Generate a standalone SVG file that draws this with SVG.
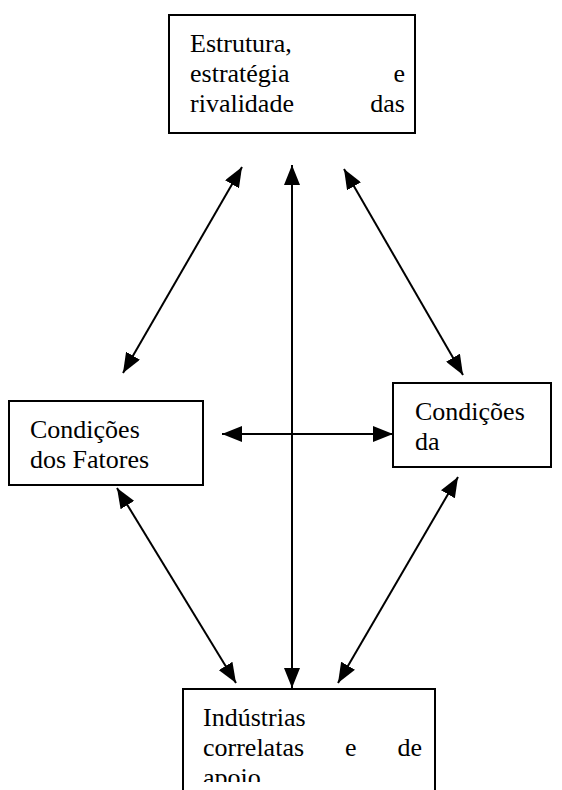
<svg xmlns="http://www.w3.org/2000/svg" width="562" height="790" viewBox="0 0 562 790">
<style>
.box{fill:#fff;stroke:#000;stroke-width:2}
.t{font-family:"Liberation Serif","Times New Roman",serif;font-size:26px;fill:#000}
.c{stroke:#000;stroke-width:2;fill:none;marker-start:url(#ah);marker-end:url(#ah)}
</style>
<defs>
<marker id="ah" markerUnits="userSpaceOnUse" markerWidth="20" markerHeight="16" refX="20" refY="8" orient="auto-start-reverse">
<path d="M0,0 L20,8 L0,16 z" fill="#000"/>
</marker>
<clipPath id="clipB"><rect x="183" y="689" width="252" height="93"/></clipPath>
</defs>
<rect width="562" height="790" fill="#fff"/>
<g id="connectors">
<line class="c" x1="242" y1="167" x2="123" y2="373"/>
<line class="c" x1="292" y1="165" x2="292" y2="688"/>
<line class="c" x1="344" y1="169" x2="463" y2="375"/>
<line class="c" x1="222" y1="434" x2="393" y2="434"/>
<line class="c" x1="117" y1="488" x2="236" y2="683"/>
<line class="c" x1="458" y1="477" x2="338" y2="683"/>
</g>
<g id="estrutura">
<rect class="box" x="169" y="15" width="246" height="118"/>
<text class="t" x="190" y="52">Estrutura,</text>
<text class="t" x="190" y="82">estratégia</text>
<text class="t" x="405" y="82" text-anchor="end">e</text>
<text class="t" x="190" y="112">rivalidade</text>
<text class="t" x="405" y="112" text-anchor="end">das</text>
</g>
<g id="fatores">
<rect class="box" x="9" y="401" width="194" height="84"/>
<text class="t" x="30" y="438">Condições</text>
<text class="t" x="30" y="468">dos Fatores</text>
</g>
<g id="demanda">
<rect class="box" x="393" y="383" width="158" height="84"/>
<text class="t" x="415" y="420">Condições</text>
<text class="t" x="415" y="450">da</text>
</g>
<g id="industrias">
<rect class="box" x="183" y="689" width="252" height="110"/>
<g clip-path="url(#clipB)">
<text class="t" x="203" y="726">Indústrias</text>
<text class="t" x="203" y="756">correlatas</text>
<text class="t" x="345" y="756">e</text>
<text class="t" x="422" y="756" text-anchor="end">de</text>
<text class="t" x="203" y="786">apoio</text>
</g>
</g>
</svg>
